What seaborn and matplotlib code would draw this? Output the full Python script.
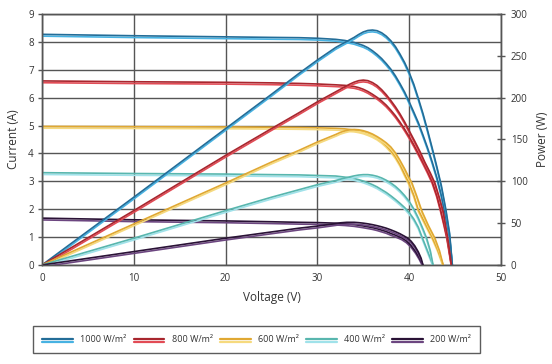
import pandas as pd
import matplotlib
matplotlib.use("Agg")
import matplotlib.pyplot as plt
import matplotlib.patheffects as pe
from matplotlib.lines import Line2D
import seaborn as sns

# values
irradiance = ["1000 W/m²", "800 W/m²", "600 W/m²", "400 W/m²", "200 W/m²"]

v_iv_1000 = [0, 10, 20, 25, 28, 30, 32, 33, 34, 35, 35.5, 36, 36.5, 37, 37.5, 38, 38.5, 39, 39.5,
             40, 40.5, 41, 41.5, 42, 42.5, 43, 43.5, 44, 44.4, 44.7]
i_1000 = [8.27, 8.22, 8.18, 8.16, 8.15, 8.13, 8.09, 8.05, 7.98, 7.87, 7.79, 7.68, 7.55, 7.4, 7.22,
          7.02, 6.78, 6.5, 6.2, 5.85, 5.48, 5.1, 4.66, 4.2, 3.7, 3.15, 2.5, 1.7, 1.0, 0]
v_pw_1000 = [0, 10, 20, 25, 28, 30, 32, 33, 34, 34.5, 35, 35.5, 36, 36.5, 37, 37.5, 38, 38.5, 39,
             39.5, 40, 40.5, 41, 41.5, 42, 42.5, 43, 43.5, 44, 44.4, 44.7]
p_1000 = [0, 81, 163, 204, 229, 245, 260, 266, 272, 275.5, 278.5, 280.3, 280.8, 280, 277.5, 273.5,
          268, 261, 252, 242, 230, 216, 199, 181, 161, 140, 118, 95, 66, 38, 0]

v_iv_800 = [0, 10, 20, 25, 28, 30, 32, 33, 34, 34.5, 35, 35.5, 36, 36.5, 37, 37.5, 38, 38.5, 39,
            39.5, 40, 40.5, 41, 41.5, 42, 42.5, 43, 43.4, 43.8, 44.1, 44.6]
i_800 = [6.6, 6.57, 6.55, 6.53, 6.51, 6.49, 6.46, 6.44, 6.4, 6.36, 6.3, 6.22, 6.12, 6.01, 5.88,
         5.73, 5.55, 5.35, 5.12, 4.87, 4.6, 4.31, 4.0, 3.68, 3.35, 2.99, 2.5, 2.0, 1.45, 1.0, 0]
v_pw_800 = [0, 10, 20, 25, 28, 30, 32, 33, 33.5, 34, 34.5, 35, 35.5, 36, 36.5, 37, 37.5, 38, 38.5,
            39, 39.5, 40, 40.6, 41.2, 41.7, 42.3, 42.8, 43.3, 43.7, 44.2, 44.6]
p_800 = [0, 65, 131, 163, 182, 195, 207, 213, 216, 218.5, 220.3, 221, 220.3, 218, 214.5, 209.5,
         203.5, 196.5, 189, 180.5, 171, 160.5, 148, 135, 123, 110, 98, 80, 64, 32, 0]

v_iv_600 = [0, 10, 20, 25, 28, 30, 32, 33, 34, 34.5, 35, 35.5, 36, 36.5, 37, 37.5, 38, 38.5, 39,
            39.5, 39.9, 40.5, 41, 41.8, 42.5, 43.1, 43.7]
i_600 = [4.97, 4.96, 4.95, 4.94, 4.93, 4.92, 4.9, 4.88, 4.84, 4.81, 4.77, 4.71, 4.64, 4.55, 4.43,
         4.28, 4.1, 3.88, 3.6, 3.25, 2.99, 2.5, 1.97, 1.45, 1.0, 0.55, 0]
v_pw_600 = [0, 10, 20, 25, 28, 30, 32, 32.5, 33, 33.5, 34, 34.5, 35, 35.5, 36, 36.5, 37, 37.5, 38,
            38.5, 39, 39.5, 40, 40.3, 40.8, 41.4, 42.1, 42.8, 43.3, 43.7]
p_600 = [0, 49, 98, 123, 137, 147, 156, 158.5, 160.3, 161.6, 162, 161.6, 160.5, 158.8, 156.5,
         153.5, 150, 146, 141, 134, 125, 115, 104, 98, 83, 64, 47, 32, 17, 0]

v_iv_400 = [0, 10, 20, 25, 28, 30, 32, 33, 34, 34.5, 35, 35.5, 36, 36.5, 37, 37.5, 38, 38.5, 39,
            39.5, 40, 40.5, 41, 41.4, 42, 42.6]
i_400 = [3.31, 3.28, 3.26, 3.24, 3.23, 3.21, 3.19, 3.15, 3.1, 3.06, 3.01, 2.95, 2.88, 2.8, 2.7,
         2.6, 2.48, 2.35, 2.21, 2.06, 1.88, 1.65, 1.35, 1.0, 0.5, 0]
v_pw_400 = [0, 10, 20, 25, 28, 30, 32, 33, 34, 34.5, 35, 35.5, 36, 36.5, 37, 37.5, 38, 38.5, 39,
            39.5, 40, 40.5, 41, 41.5, 41.9, 42.3, 42.6]
p_400 = [0, 32, 65, 81, 90, 96, 101, 104, 106.5, 107.5, 108, 108, 107.3, 106, 104, 101.3, 98,
         94, 89, 83, 76, 67, 56, 43, 32, 17, 0]

v_iv_200 = [0, 10, 20, 25, 28, 30, 32, 33, 34, 35, 35.5, 36, 36.5, 37, 37.5, 38, 38.5, 39.2,
            39.7, 40.2, 40.7, 41.1, 41.5]
i_200 = [1.68, 1.62, 1.58, 1.55, 1.53, 1.52, 1.5, 1.48, 1.45, 1.4, 1.37, 1.34, 1.3, 1.25, 1.2,
         1.13, 1.07, 0.97, 0.86, 0.7, 0.48, 0.26, 0]
v_pw_200 = [0, 10, 20, 25, 28, 30, 32, 32.5, 33.2, 34, 34.5, 35, 35.5, 36, 36.5, 37, 37.5, 38,
            38.5, 39, 39.5, 39.8, 40.2, 40.6, 41, 41.3, 41.5]
p_200 = [0, 16, 32, 39.5, 44, 46.5, 49.5, 50.4, 51, 51, 50.6, 50, 49.2, 48.2, 47, 45.6, 44, 42,
         39.8, 37.3, 34.3, 32.3, 28.5, 23, 15.5, 8, 0]

curves = {
    "1000 W/m²": (v_iv_1000, i_1000, v_pw_1000, p_1000),
    "800 W/m²": (v_iv_800, i_800, v_pw_800, p_800),
    "600 W/m²": (v_iv_600, i_600, v_pw_600, p_600),
    "400 W/m²": (v_iv_400, i_400, v_pw_400, p_400),
    "200 W/m²": (v_iv_200, i_200, v_pw_200, p_200),
}

# (dark line, lighter twin line underneath)
colors = {
    "1000 W/m²": ("#236d98", "#47b2e2"),
    "800 W/m²": ("#a8262e", "#e24b55"),
    "600 W/m²": ("#e0a832", "#f6da7e"),
    "400 W/m²": ("#58b6ae", "#a0e2ea"),
    "200 W/m²": ("#2a1236", "#6c4680"),
}

sns.set_style("white")
plt.rcParams["font.family"] = ["Open Sans", "DejaVu Sans"]

grid_col = "#555555"
text_col = "#333333"

fig = plt.figure(figsize=(5.52, 3.64), dpi=100)
ax = fig.add_axes([0.0761, 0.272, 0.8315, 0.6896])
ax2 = ax.twinx()


def twin_line(dark, light, off=-1.3, lw=1.2):
    return [
        pe.SimpleLineShadow(offset=(0, off), shadow_color=light, alpha=1, linewidth=lw),
        pe.Normal(),
    ]


for name in irradiance:
    v_iv, cur, v_pw, pw = curves[name]
    dark, light = colors[name]
    df_iv = pd.DataFrame({"V": v_iv, "I": cur})
    df_pw = pd.DataFrame({"V": v_pw, "P": pw})
    sns.lineplot(data=df_iv, x="V", y="I", ax=ax, color=dark, lw=1.2,
                 sort=False, estimator=None, legend=False, solid_joinstyle="round")
    ax.lines[-1].set_path_effects(twin_line(dark, light))
    sns.lineplot(data=df_pw, x="V", y="P", ax=ax2, color=dark, lw=1.2,
                 sort=False, estimator=None, legend=False, solid_joinstyle="round")
    ax2.lines[-1].set_path_effects(twin_line(dark, light))

ax.set_xlim(0, 50)
ax.set_ylim(0, 9)
ax2.set_ylim(0, 300)
ax.set_xticks(range(0, 51, 10))
ax.set_yticks(range(0, 10))
ax2.set_yticks(range(0, 301, 50))

ax.grid(True, color=grid_col, lw=1.0)
ax.set_axisbelow(True)
for a in (ax, ax2):
    for s in a.spines.values():
        s.set_color(grid_col)
        s.set_linewidth(1.0)

ax.tick_params(axis="both", direction="out", length=3, width=1, color=grid_col,
               labelsize=7, labelcolor=text_col, pad=3)
ax2.tick_params(axis="y", direction="inout", length=6, width=1, color=grid_col,
                labelsize=7, labelcolor=text_col, pad=4)

ax.set_xlabel("Voltage (V)", fontsize=8.5, color=text_col, labelpad=5)
ax.set_ylabel("Current (A)", fontsize=8.5, color=text_col, labelpad=6)
ax2.set_ylabel("Power (W)", fontsize=8.5, color=text_col, labelpad=6)

handles = [
    Line2D([0], [0], color=colors[n][0], lw=1.6,
           path_effects=twin_line(*colors[n], off=-2.8, lw=1.6))
    for n in irradiance
]
leg = fig.legend(handles, irradiance, loc="center", bbox_to_anchor=(0.4647, 0.068),
                 ncol=5, frameon=True, fancybox=False, edgecolor="#333333",
                 fontsize=6.5, handlelength=3.4, columnspacing=0.8,
                 handletextpad=0.8, borderpad=1.0, labelcolor=text_col)
leg.get_frame().set_linewidth(1.0)

fig.savefig("out.png", dpi=100)
